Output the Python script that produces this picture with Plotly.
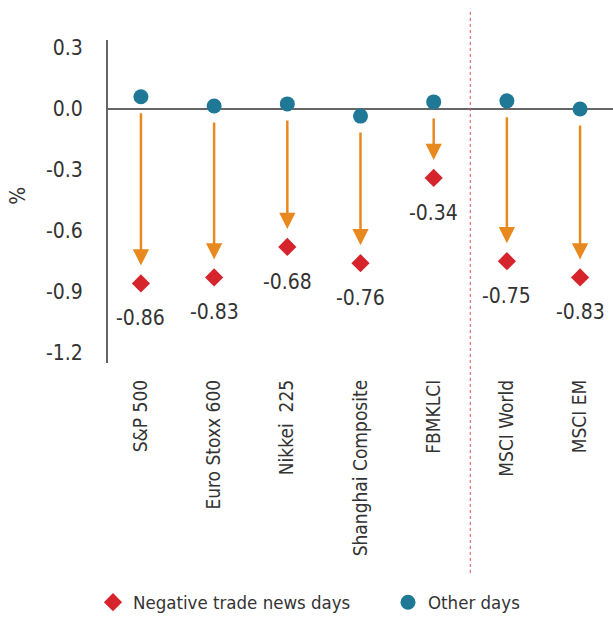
import plotly.graph_objects as go

categories = ["S&P 500", "Euro Stoxx 600", "Nikkei  225", "Shanghai Composite",
              "FBMKLCI", "MSCI World", "MSCI EM"]
other_days = [0.06, 0.015, 0.025, -0.035, 0.035, 0.04, 0.0]
negative_days = [-0.86, -0.83, -0.68, -0.76, -0.34, -0.75, -0.83]
neg_labels = ["-0.86", "-0.83", "-0.68", "-0.76", "-0.34", "-0.75", "-0.83"]
y_ticks = [0.3, 0.0, -0.3, -0.6, -0.9, -1.2]
y_tick_labels = ["0.3", "0.0", "-0.3", "-0.6", "-0.9", "-1.2"]

FONT = "DejaVu Sans Condensed, DejaVu Sans, sans-serif"
TXT = "#333333"
TEAL = "#1E7896"
RED = "#D5242C"
ORANGE = "#E8891F"

fig = go.Figure()

fig.add_trace(go.Scatter(
    x=categories, y=negative_days, mode="markers",
    name="Negative trade news days",
    marker=dict(symbol="diamond", size=14, color=RED),
    cliponaxis=False, legend="legend",
))
fig.add_trace(go.Scatter(
    x=categories, y=other_days, mode="markers",
    name="Other days",
    marker=dict(symbol="circle", size=15, color=TEAL),
    cliponaxis=False, legend="legend2",
))

for c, o, n, lab in zip(categories, other_days, negative_days, neg_labels):
    fig.add_annotation(
        x=c, y=n, ax=c, ay=o, xref="x", yref="y", axref="x", ayref="y",
        showarrow=True, arrowhead=2, arrowsize=1.3, arrowwidth=2.5,
        arrowcolor=ORANGE, standoff=18, startstandoff=15, text="",
    )
    fig.add_annotation(
        x=c, y=n, xref="x", yref="y", text=lab, showarrow=False,
        yshift=-35, font=dict(family=FONT, size=21, color=TXT),
    )

fig.add_annotation(
    x=-0.178, y=0.518, xref="paper", yref="paper", text="%", textangle=-90,
    xanchor="center", yanchor="middle",
    showarrow=False, font=dict(family=FONT, size=21, color=TXT),
)

fig.add_shape(type="line", xref="x", yref="paper",
              x0=4.5, x1=4.5, y0=-0.65, y1=1.092,
              line=dict(color="#E0505A", width=1, dash="dot"))

leg_common = dict(orientation="h", xanchor="left", yanchor="middle",
                  font=dict(family=FONT, size=18.5, color=TXT),
                  bgcolor="rgba(0,0,0,0)")
fig.update_layout(
    width=613, height=622,
    margin=dict(l=108, r=0, t=40, b=256),
    paper_bgcolor="white", plot_bgcolor="white",
    font=dict(family=FONT, size=21, color=TXT),
    showlegend=True,
    legend=dict(x=(93 - 108) / 505, y=-0.742, **leg_common),
    legend2=dict(x=(388 - 108) / 505, y=-0.742, **leg_common),
    xaxis=dict(type="category", range=[-0.45, 6.45], showgrid=False, showline=False,
               zeroline=False, tickangle=-90, ticks="", automargin=False,
               ticklabelstandoff=12, tickfont=dict(size=19, color=TXT)),
    yaxis=dict(range=[-1.252, 0.34], tickvals=y_ticks, ticktext=y_tick_labels,
               showgrid=False, showline=True, linecolor="#666666", linewidth=2,
               zeroline=True, zerolinecolor="#666666", zerolinewidth=2,
               ticks="", ticklabelstandoff=19, automargin=False,
               tickfont=dict(size=21, color=TXT)),
)

fig.write_html("out.html", config={"displayModeBar": False},
               post_script="document.body.style.margin='0';document.body.style.padding='0';")
